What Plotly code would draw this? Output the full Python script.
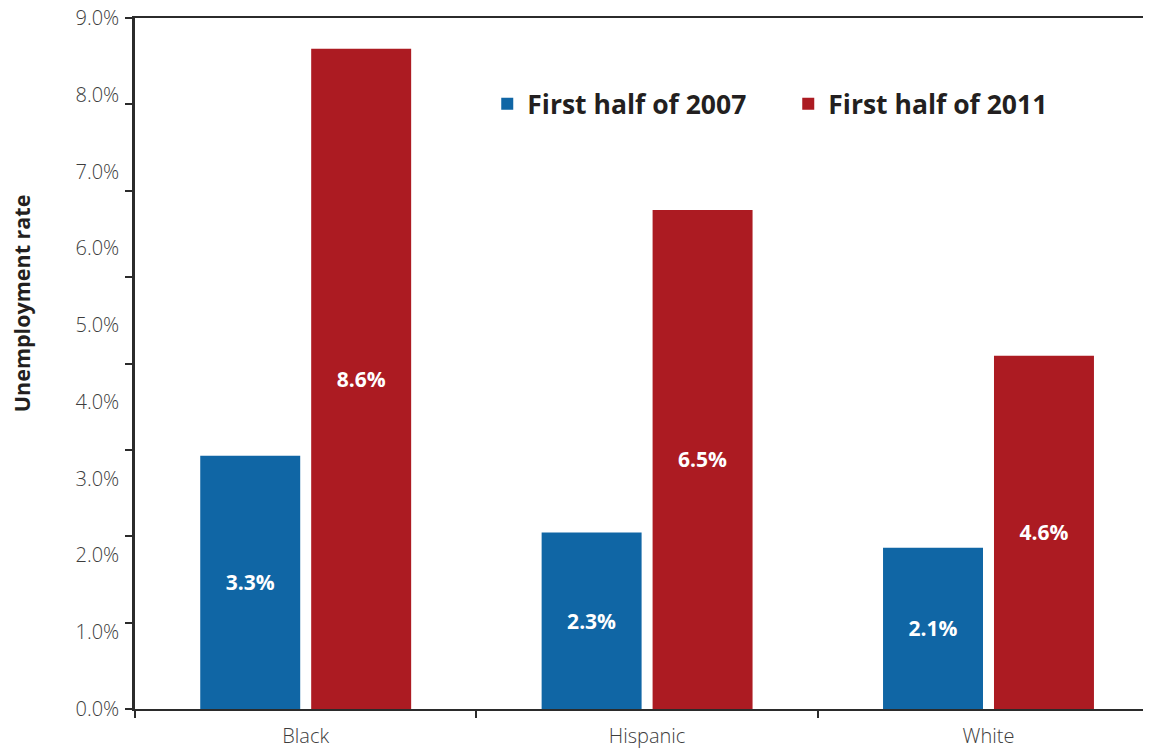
import plotly.graph_objects as go

categories = ["Black", "Hispanic", "White"]
rate_2007 = [3.3, 2.3, 2.1]
rate_2011 = [8.6, 6.5, 4.6]
series_names = ["First half of 2007", "First half of 2011"]
y_tickvals = [0, 1, 2, 3, 4, 5, 6, 7, 8, 9]
y_ticktext = ["0.0%", "1.0%", "2.0%", "3.0%", "4.0%", "5.0%", "6.0%", "7.0%", "8.0%", "9.0%"]

BLUE = "#1066A5"
RED = "#AC1B22"
AXIS = "#2b2b2b"
LABEL = "#3d3d3d"

fig = go.Figure()
for name, vals, col in [(series_names[0], rate_2007, BLUE), (series_names[1], rate_2011, RED)]:
    fig.add_trace(go.Bar(
        x=categories, y=vals, name=name,
        marker=dict(color=col, line=dict(width=0)),
        text=[f"{v:.1f}%" for v in vals],
        textposition="inside", insidetextanchor="middle",
        textfont=dict(family="Open Sans", size=21, color="white", weight="bold"),
        textangle=0,
        hoverinfo="skip",
    ))

fig.update_layout(
    width=1143, height=740,
    margin=dict(l=127, r=0, t=10, b=39, autoexpand=False),
    paper_bgcolor="white", plot_bgcolor="white",
    barmode="group", bargap=0.35, bargroupgap=0.099,
    showlegend=True,
    legend=dict(
        orientation="h", x=0.3467, y=0.8755, xanchor="left", yanchor="middle",
        font=dict(family="Open Sans", size=26.5, color="#231f20", weight="bold"),
        bgcolor="rgba(0,0,0,0)", borderwidth=0,
        entrywidth=256, entrywidthmode="pixels",
        traceorder="normal",
    ),
    font=dict(family="Open Sans"),
)

fig.update_xaxes(
    range=[-0.5, 2.476],
    showline=True, linecolor=AXIS, linewidth=2, mirror=True,
    ticks="outside", tickson="boundaries", ticklen=7, tickwidth=2, tickcolor=AXIS,
    tickfont=dict(family="Open Sans", size=20, color=LABEL, weight=300),
    ticklabelstandoff=8,
    automargin=False,
    showgrid=False, zeroline=False,
)

fig.update_yaxes(
    range=[0, 9],
    tickvals=y_tickvals, ticktext=y_ticktext,
    showline=True, linecolor=AXIS, linewidth=2.5,
    ticks="", ticklen=0,
    minor=dict(ticks="outside", ticklen=7, tickwidth=2, tickcolor=AXIS, tick0=0, dtick=1.125, showgrid=False),
    tickfont=dict(family="Open Sans", size=20, color=LABEL, weight=300),
    ticklabelstandoff=9,
    ticklabeloverflow="allow",
    automargin=False,
    showgrid=False, zeroline=False,
)

fig.add_annotation(
    text="Unemployment rate", textangle=-90,
    xref="paper", yref="paper", x=-0.111, y=0.5876,
    xanchor="center", yanchor="middle", showarrow=False,
    font=dict(family="Open Sans", size=21.5, color="#231f20", weight="bold"),
)

fig.write_html("out.html")
